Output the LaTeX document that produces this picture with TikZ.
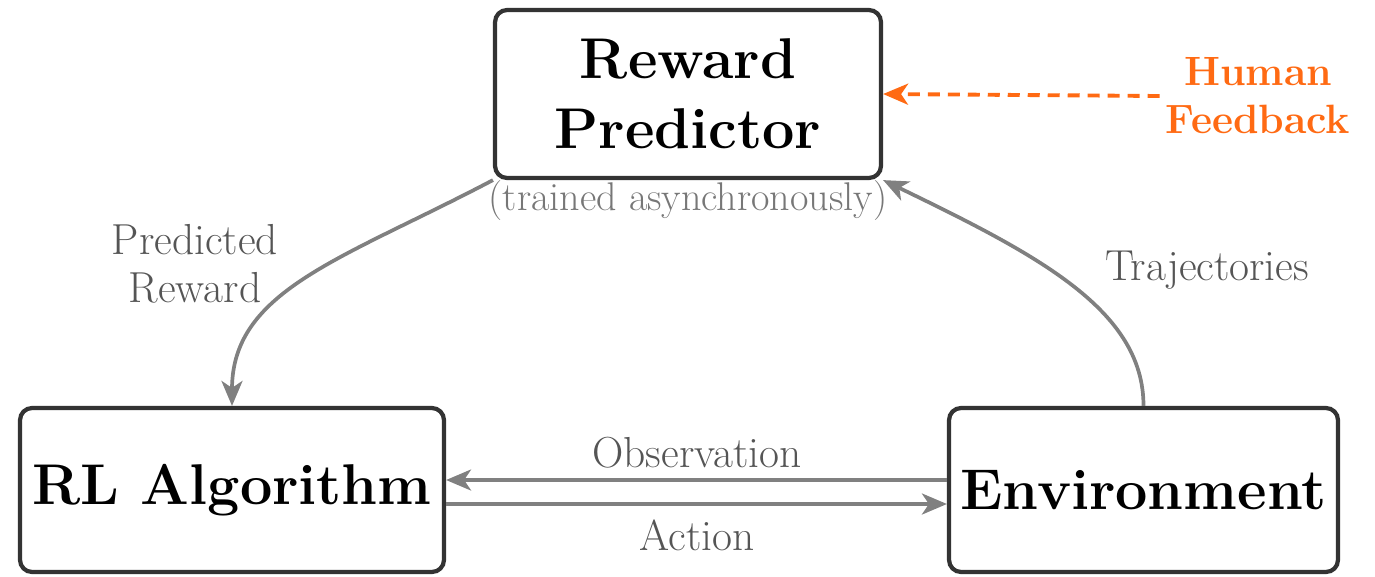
\documentclass[tikz,border=0pt]{standalone}
\usetikzlibrary{arrows.meta}
\definecolor{boxline}{HTML}{333333}
\definecolor{flow}{HTML}{808080}
\definecolor{labeltext}{HTML}{555555}
\definecolor{notetext}{HTML}{777777}
\definecolor{humanorange}{HTML}{FF6A13}
\tikzset{
  block/.style={draw=boxline, line width=2.4pt, rounded corners=0.24cm,
    align=center, font=\fontsize{32.7}{40}\selectfont\bfseries, inner sep=0pt},
  tip/.style={-{Stealth[length=0.5cm, width=0.42cm, inset=0.14cm]}},
  flowarrow/.style={draw=flow, line width=2.1pt, tip},
  feedarrow/.style={draw=humanorange, line width=2.2pt, dash pattern=on 0.24cm off 0.16cm, tip},
  flowlabel/.style={text=labeltext, align=center, font=\fontsize{24.7}{27.3}\selectfont},
}
\begin{document}
\begin{tikzpicture}[x=0.02cm, y=-0.02cm]
  \useasboundingbox (0,0) rectangle (1375,576);

  % the three components
  \node[block, minimum width=7.72cm, minimum height=3.36cm] (RP) at (688,94) {Reward\\Predictor};
  \node[block, minimum width=8.48cm, minimum height=3.28cm] (RL) at (232,490) {RL Algorithm};
  \node[block, minimum width=7.78cm, minimum height=3.28cm] (Env) at (1143.5,490) {Environment};

  \node[text=notetext, font=\fontsize{22.8}{26}\selectfont] (async) at (688,200) {(trained asynchronously)};

  % human input
  \node[text=humanorange, align=center, font=\fontsize{23.3}{27.3}\selectfont\bfseries] (HF) at (1258,96) {Human\\Feedback};
  \draw[feedarrow] (HF.west) -- (RP.east);

  % agent--environment loop
  \draw[flowarrow] ([yshift=0.2cm]Env.west) -- ([yshift=0.2cm]RL.east);
  \draw[flowarrow] ([yshift=-0.28cm]RL.east) -- ([yshift=-0.28cm]Env.west);
  \node[flowlabel] (obs) at (697,453) {Observation};
  \node[flowlabel] (act) at (697,535) {Action};

  % reward model connections
  \draw[flowarrow] (RP.south west) .. controls +(-150,79) and +(0,-116) .. (RL.north);
  \draw[flowarrow] (Env.north) .. controls +(0,-96) and +(155,75) .. (RP.south east);
  \node[flowlabel] (pr) at (195,264) {Predicted\\Reward};
  \node[flowlabel] (traj) at (1207,270) {Trajectories};
\end{tikzpicture}
\end{document}
